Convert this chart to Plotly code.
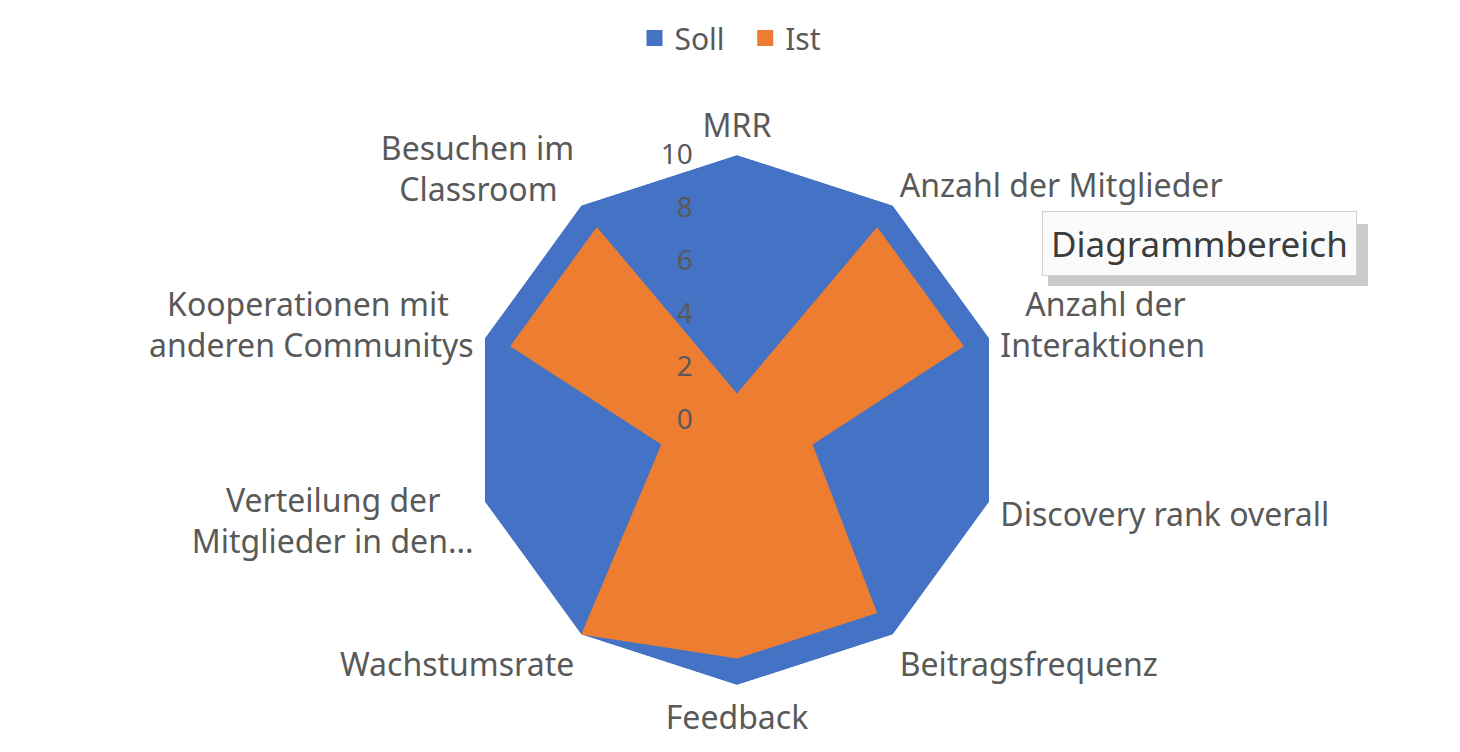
import plotly.graph_objects as go

NB = "\u00a0"

# Kategorien im Uhrzeigersinn, beginnend oben
# (geschuetzte Leerzeichen, damit zweizeilige Beschriftungen zentriert wirken wie in Excel)
categories = [
    "MRR",
    "Anzahl der Mitglieder",
    NB * 3 + "Anzahl der<br>Interaktionen",
    "Discovery rank overall",
    "Beitragsfrequenz",
    "Feedback",
    "Wachstumsrate",
    "Verteilung der" + NB * 4 + "<br>Mitglieder in den...",
    "Kooperationen mit" + NB * 3 + "<br>anderen Communitys",
    "Besuchen im<br>Classroom" + NB * 2,
]
soll = [10, 10, 10, 10, 10, 10, 10, 10, 10, 10]
ist = [1, 9, 9, 3, 9, 9, 10, 3, 9, 9]
radial_ticks = [0, 2, 4, 6, 8, 10]

FONT = "Noto Sans"
GRAY = "#595959"
COLORS = {"Soll": "#4472c4", "Ist": "#ed7d31"}

fig = go.Figure()

for name, values in [("Soll", soll), ("Ist", ist)]:
    fig.add_trace(go.Scatterpolar(
        r=values + values[:1],
        theta=categories + categories[:1],
        name=name,
        legendgroup=name,
        showlegend=False,
        mode="none",
        fill="toself",
        fillcolor=COLORS[name],
    ))
    # nur fuer die Legende (quadratisches Symbol wie in Excel)
    fig.add_trace(go.Scatterpolar(
        r=[None],
        theta=[categories[0]],
        name=name + NB * 2,
        legendgroup=name,
        mode="markers",
        marker=dict(symbol="square", size=17, color=COLORS[name]),
    ))

# Excel-Tooltip mit leichtem Schatten
fig.add_shape(
    type="rect", xref="paper", yref="paper",
    x0=1040 / 1460, x1=1360 / 1460, y0=1 - 278 / 752, y1=1 - 216 / 752,
    fillcolor="#a8a8a8", line=dict(width=0), opacity=0.6, layer="above",
)
fig.add_annotation(
    text="Diagrammbereich",
    xref="paper", yref="paper",
    x=1191 / 1460, y=1 - 235 / 752,
    xanchor="center", yanchor="middle",
    showarrow=False,
    font=dict(family=FONT, size=35, color="#3c3c3c"),
    bgcolor="#fbfbfb",
    bordercolor="#d0d0d0",
    borderwidth=1,
    borderpad=8,
)

cx, cy, rad = 729, 340, 265  # px, y von unten

fig.update_layout(
    width=1460,
    height=752,
    margin=dict(l=0, r=0, t=0, b=0),
    paper_bgcolor="white",
    plot_bgcolor="white",
    font=dict(family=FONT, size=32, color=GRAY),
    showlegend=True,
    legend=dict(
        orientation="h",
        x=0.5, xanchor="center",
        y=1 - 30 / 752, yanchor="middle",
        font=dict(family=FONT, size=30, color=GRAY),
        itemwidth=30,
    ),
    polar=dict(
        domain=dict(x=[(cx - rad) / 1460, (cx + rad) / 1460],
                    y=[(cy - rad) / 752, (cy + rad) / 752]),
        bgcolor="rgba(0,0,0,0)",
        gridshape="linear",
        radialaxis=dict(
            range=[0, 10],
            tickvals=radial_ticks,
            angle=90,
            tickangle=90,
            side="counterclockwise",
            showgrid=False,
            showline=False,
            ticks="outside",
            ticklen=34,
            tickcolor="rgba(0,0,0,0)",
            tickfont=dict(family=FONT, size=28, color=GRAY),
            layer="above traces",
        ),
        angularaxis=dict(
            rotation=90,
            direction="clockwise",
            showgrid=False,
            showline=False,
            ticks="outside",
            ticklen=5,
            tickcolor="rgba(0,0,0,0)",
            tickfont=dict(family=FONT, size=32, color=GRAY),
        ),
    ),
)

fig.write_html("out.html")
